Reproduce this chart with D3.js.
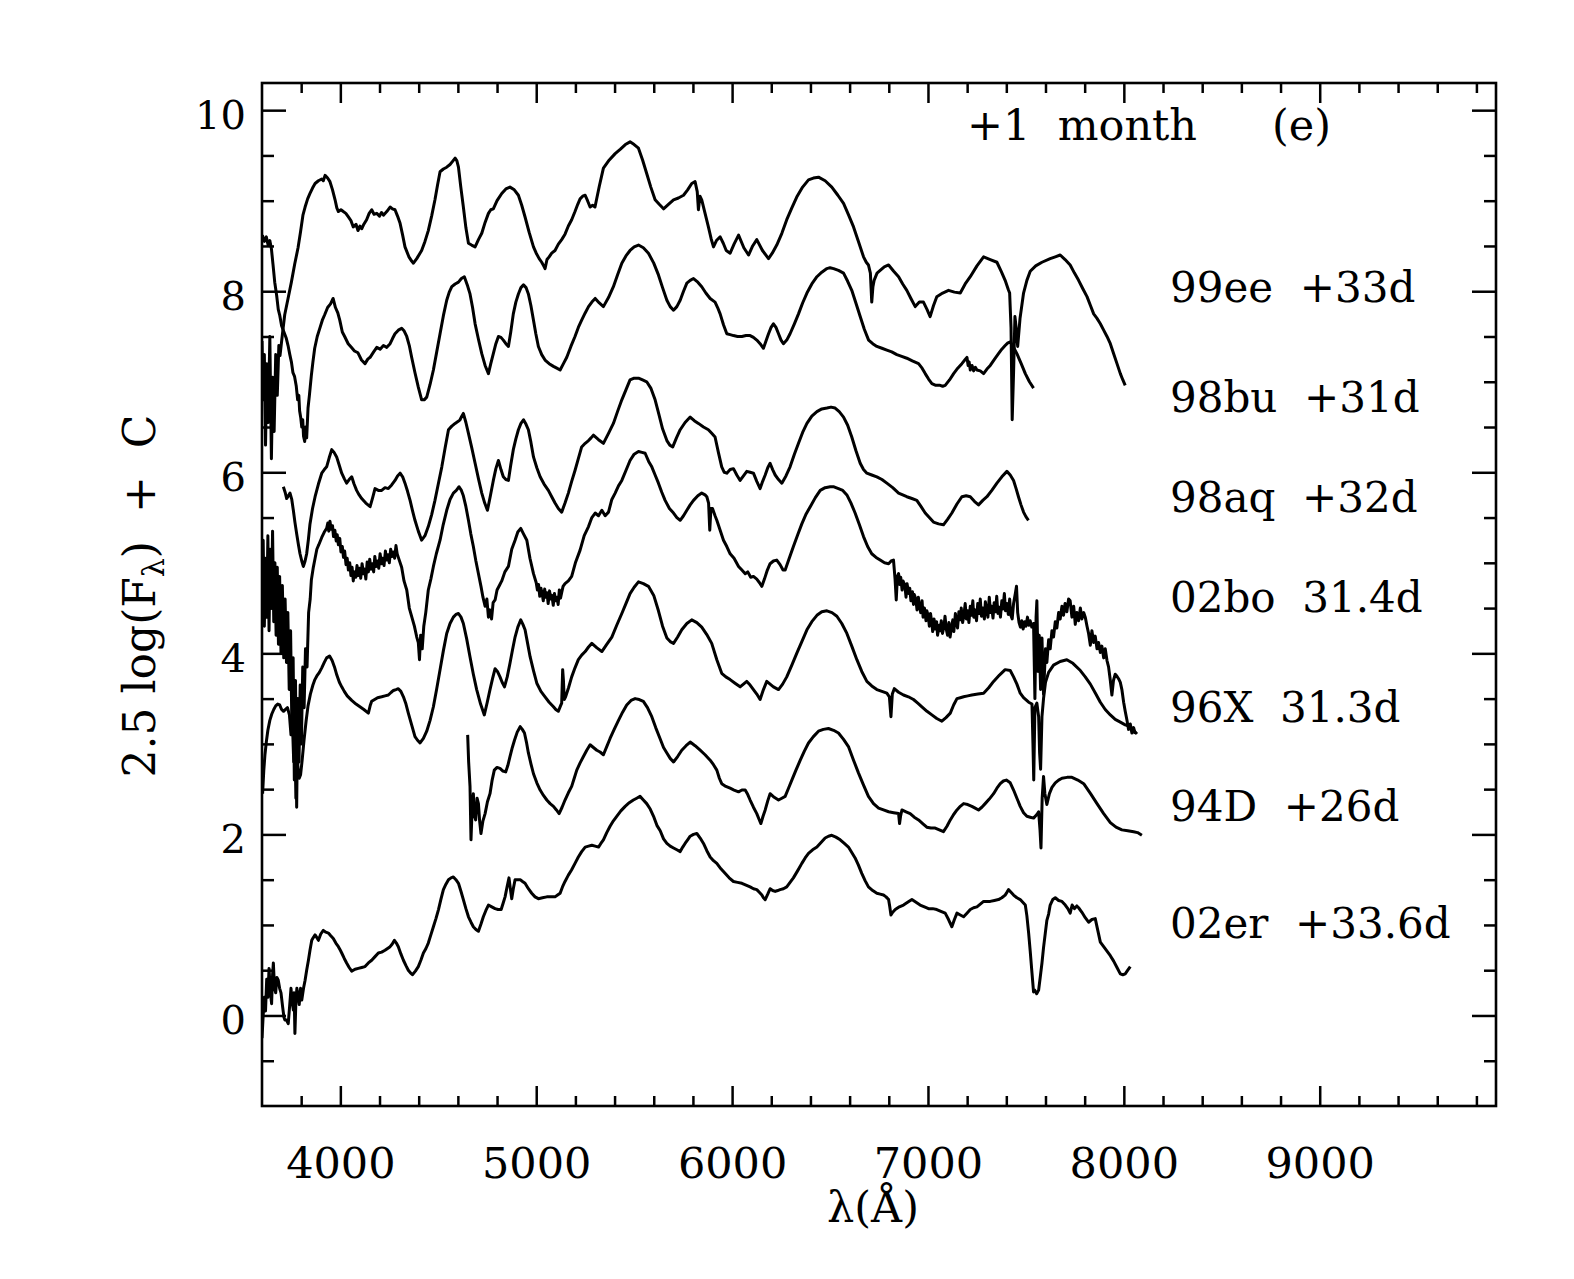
<!DOCTYPE html>
<html>
<head>
<meta charset="utf-8">
<script src="https://cdn.jsdelivr.net/npm/d3@7"></script>
<style>
  body { margin: 0; background: #fff; }
  text { font-family: "DejaVu Serif", serif; fill: #000; white-space: pre; }
</style>
</head>
<body>
<div class="chart"></div>
<script>
// spectra: [wavelength (A), 2.5 log(F) + C]
var sn99ee = [[3600,7.45],[3606,6.80],[3612,7.30],[3618,6.30],[3625,7.20],[3632,6.55],[3640,7.50],[3648,6.15],[3655,7.05],[3662,6.45],[3670,7.30],[3678,6.85],[3686,7.40],[3692,7.29],[3704,7.52],[3716,7.74],[3733,7.92],[3750,8.10],[3767,8.30],[3784,8.48],[3797,8.66],[3809,8.84],[3820,8.93],[3833,9.02],[3845,9.08],[3858,9.14],[3871,9.19],[3888,9.22],[3905,9.24],[3913,9.22],[3922,9.28],[3935,9.25],[3947,9.21],[3960,9.12],[3973,9.01],[3982,8.92],[3990,8.88],[4003,8.90],[4015,8.88],[4028,8.86],[4041,8.82],[4054,8.78],[4066,8.71],[4080,8.74],[4090,8.67],[4100,8.72],[4109,8.69],[4120,8.74],[4134,8.79],[4147,8.86],[4160,8.90],[4172,8.85],[4186,8.86],[4200,8.83],[4210,8.87],[4220,8.84],[4237,8.88],[4254,8.93],[4266,8.91],[4279,8.90],[4292,8.83],[4305,8.75],[4318,8.62],[4330,8.49],[4350,8.38],[4365,8.33],[4373,8.31],[4390,8.36],[4415,8.45],[4432,8.55],[4449,8.67],[4466,8.83],[4483,9.01],[4496,9.17],[4509,9.32],[4526,9.35],[4543,9.37],[4560,9.40],[4575,9.44],[4586,9.47],[4595,9.44],[4603,9.37],[4615,9.15],[4628,8.93],[4641,8.70],[4654,8.53],[4670,8.51],[4688,8.49],[4705,8.57],[4722,8.64],[4739,8.76],[4756,8.86],[4768,8.90],[4781,8.91],[4800,9.00],[4824,9.08],[4845,9.13],[4866,9.15],[4888,9.12],[4909,9.06],[4926,8.95],[4943,8.82],[4964,8.65],[4986,8.49],[5000,8.42],[5015,8.36],[5028,8.32],[5038,8.28],[5045,8.25],[5055,8.35],[5066,8.38],[5079,8.42],[5096,8.45],[5113,8.52],[5130,8.57],[5147,8.63],[5164,8.72],[5181,8.79],[5198,8.88],[5212,8.96],[5224,9.02],[5237,9.05],[5250,9.06],[5262,9.00],[5275,8.93],[5288,8.95],[5300,8.93],[5322,9.16],[5343,9.36],[5373,9.45],[5403,9.52],[5430,9.57],[5455,9.62],[5479,9.65],[5500,9.62],[5522,9.58],[5543,9.45],[5564,9.30],[5585,9.15],[5607,9.01],[5628,8.96],[5650,8.91],[5675,8.96],[5701,9.01],[5726,9.03],[5752,9.06],[5773,9.12],[5794,9.19],[5811,9.21],[5822,9.10],[5828,8.90],[5836,9.05],[5845,9.01],[5862,8.86],[5879,8.71],[5893,8.58],[5905,8.49],[5920,8.56],[5939,8.60],[5955,8.53],[5970,8.45],[5990,8.42],[6010,8.52],[6033,8.62],[6060,8.48],[6084,8.40],[6105,8.50],[6126,8.57],[6155,8.45],[6186,8.36],[6205,8.42],[6228,8.51],[6254,8.64],[6279,8.79],[6305,8.92],[6330,9.04],[6360,9.15],[6390,9.23],[6415,9.25],[6441,9.26],[6475,9.22],[6509,9.15],[6540,9.06],[6569,8.97],[6595,8.84],[6620,8.71],[6645,8.55],[6671,8.38],[6685,8.32],[6696,8.29],[6706,8.20],[6713,7.88],[6719,8.05],[6725,8.12],[6740,8.20],[6756,8.23],[6777,8.27],[6799,8.29],[6825,8.22],[6850,8.16],[6871,8.08],[6892,8.01],[6913,7.92],[6935,7.83],[6956,7.88],[6977,7.88],[6995,7.80],[7011,7.72],[7028,7.84],[7045,7.94],[7075,7.98],[7105,8.01],[7135,7.99],[7165,7.98],[7190,8.08],[7216,8.16],[7250,8.28],[7284,8.38],[7318,8.35],[7352,8.32],[7374,8.22],[7394,8.12],[7410,8.02],[7417,7.98],[7424,7.60],[7430,6.58],[7437,7.10],[7444,7.72],[7450,7.60],[7458,7.39],[7470,7.70],[7488,7.98],[7505,8.12],[7522,8.22],[7550,8.28],[7582,8.32],[7624,8.36],[7650,8.38],[7675,8.40],[7700,8.35],[7726,8.29],[7748,8.20],[7769,8.12],[7790,8.03],[7812,7.94],[7830,7.84],[7846,7.75],[7863,7.70],[7880,7.64],[7897,7.57],[7914,7.50],[7931,7.42],[7948,7.31],[7965,7.20],[7982,7.09],[7995,7.02],[8007,6.96]];

var sn98bu = [[3602,8.62],[3612,8.55],[3622,8.60],[3631,8.51],[3640,8.56],[3648,8.47],[3656,8.30],[3665,8.10],[3675,7.95],[3683,7.80],[3690,7.74],[3700,7.62],[3712,7.55],[3724,7.48],[3733,7.40],[3742,7.30],[3750,7.22],[3758,7.10],[3766,7.06],[3775,6.95],[3782,6.80],[3788,6.85],[3792,6.68],[3798,6.60],[3803,6.50],[3808,6.58],[3812,6.40],[3818,6.34],[3823,6.50],[3828,6.38],[3835,6.71],[3842,6.85],[3852,7.07],[3860,7.22],[3869,7.37],[3882,7.50],[3895,7.59],[3908,7.68],[3920,7.74],[3935,7.82],[3950,7.86],[3963,7.92],[3975,7.82],[3987,7.76],[3997,7.68],[4010,7.55],[4022,7.50],[4040,7.42],[4056,7.38],[4072,7.34],[4090,7.32],[4108,7.24],[4126,7.20],[4140,7.25],[4152,7.27],[4170,7.33],[4186,7.38],[4203,7.36],[4220,7.40],[4237,7.38],[4254,7.42],[4267,7.48],[4279,7.53],[4296,7.57],[4313,7.59],[4326,7.56],[4339,7.50],[4352,7.40],[4364,7.27],[4381,7.10],[4398,6.94],[4415,6.80],[4428,6.80],[4441,6.83],[4458,6.97],[4475,7.13],[4492,7.33],[4509,7.53],[4526,7.73],[4543,7.90],[4556,7.99],[4569,8.05],[4586,8.08],[4603,8.10],[4618,8.14],[4633,8.16],[4648,8.07],[4662,7.97],[4675,7.82],[4688,7.64],[4705,7.47],[4722,7.31],[4739,7.18],[4756,7.09],[4768,7.20],[4781,7.31],[4794,7.42],[4807,7.50],[4820,7.49],[4832,7.46],[4845,7.42],[4858,7.39],[4870,7.55],[4883,7.75],[4896,7.88],[4909,7.97],[4922,8.04],[4935,8.07],[4948,8.04],[4960,7.97],[4973,7.84],[4986,7.68],[4998,7.53],[5011,7.39],[5028,7.30],[5045,7.24],[5066,7.20],[5088,7.17],[5105,7.15],[5122,7.13],[5139,7.20],[5156,7.27],[5177,7.39],[5198,7.50],[5215,7.60],[5232,7.68],[5250,7.76],[5267,7.83],[5284,7.88],[5301,7.92],[5322,7.87],[5343,7.83],[5369,7.93],[5394,8.05],[5415,8.18],[5437,8.31],[5458,8.39],[5479,8.45],[5500,8.49],[5522,8.51],[5547,8.48],[5573,8.42],[5600,8.31],[5624,8.18],[5645,8.04],[5667,7.90],[5684,7.83],[5701,7.79],[5718,7.83],[5735,7.90],[5752,8.00],[5769,8.09],[5786,8.12],[5803,8.14],[5825,8.10],[5845,8.05],[5866,7.98],[5888,7.92],[5913,7.88],[5926,7.82],[5939,7.75],[5956,7.63],[5973,7.53],[5990,7.52],[6007,7.51],[6028,7.50],[6050,7.50],[6071,7.51],[6092,7.51],[6109,7.49],[6126,7.46],[6143,7.42],[6160,7.37],[6173,7.45],[6186,7.53],[6199,7.60],[6211,7.64],[6224,7.60],[6237,7.53],[6250,7.46],[6262,7.42],[6279,7.46],[6296,7.53],[6318,7.64],[6339,7.75],[6360,7.87],[6382,7.98],[6407,8.08],[6433,8.16],[6458,8.21],[6484,8.25],[6500,8.26],[6518,8.25],[6543,8.23],[6569,8.20],[6590,8.11],[6611,8.01],[6632,7.87],[6654,7.72],[6675,7.58],[6697,7.46],[6718,7.42],[6739,7.39],[6765,7.37],[6790,7.35],[6815,7.33],[6841,7.30],[6866,7.28],[6892,7.26],[6920,7.23],[6952,7.20],[6970,7.15],[6986,7.09],[7003,7.03],[7020,6.98],[7040,6.96],[7062,6.96],[7075,6.95],[7088,6.96],[7110,7.02],[7131,7.09],[7152,7.15],[7173,7.20],[7188,7.24],[7199,7.27],[7205,7.18],[7210,7.22],[7216,7.13],[7225,7.18],[7233,7.12],[7242,7.16],[7250,7.13],[7267,7.12],[7284,7.09],[7301,7.14],[7318,7.18],[7340,7.25],[7360,7.31],[7377,7.36],[7394,7.40],[7408,7.43],[7420,7.44],[7437,7.38],[7454,7.31],[7476,7.20],[7497,7.09],[7518,7.00],[7539,6.93]];

var sn98aq = [[3709,5.84],[3718,5.78],[3726,5.71],[3735,5.74],[3743,5.77],[3752,5.70],[3760,5.58],[3768,5.45],[3777,5.32],[3786,5.20],[3794,5.10],[3803,5.02],[3811,4.96],[3820,5.02],[3828,5.10],[3837,5.26],[3845,5.43],[3858,5.60],[3871,5.73],[3888,5.87],[3905,5.99],[3918,6.03],[3930,6.06],[3943,6.16],[3956,6.25],[3968,6.22],[3981,6.17],[3994,6.08],[4007,5.99],[4020,5.93],[4032,5.88],[4045,5.92],[4058,5.95],[4070,5.87],[4083,5.80],[4096,5.75],[4109,5.71],[4130,5.66],[4152,5.62],[4165,5.72],[4177,5.82],[4194,5.80],[4211,5.80],[4228,5.83],[4245,5.82],[4262,5.86],[4279,5.91],[4292,5.96],[4305,5.99],[4318,5.95],[4330,5.88],[4343,5.79],[4356,5.69],[4368,5.58],[4381,5.47],[4398,5.35],[4415,5.25],[4432,5.30],[4449,5.40],[4466,5.53],[4483,5.69],[4500,5.87],[4518,6.06],[4535,6.27],[4552,6.47],[4569,6.51],[4586,6.54],[4600,6.56],[4611,6.58],[4620,6.62],[4628,6.65],[4641,6.55],[4654,6.43],[4671,6.27],[4688,6.10],[4705,5.93],[4722,5.77],[4737,5.66],[4751,5.58],[4766,5.74],[4781,5.91],[4794,6.04],[4807,6.13],[4820,6.03],[4832,5.95],[4845,5.92],[4858,5.91],[4870,6.08],[4883,6.25],[4896,6.37],[4909,6.47],[4922,6.54],[4935,6.58],[4948,6.53],[4960,6.47],[4973,6.33],[4986,6.17],[5003,6.05],[5020,5.95],[5040,5.87],[5062,5.80],[5079,5.73],[5096,5.66],[5113,5.60],[5130,5.56],[5147,5.66],[5164,5.77],[5181,5.90],[5198,6.02],[5215,6.15],[5232,6.28],[5250,6.32],[5267,6.35],[5280,6.38],[5292,6.41],[5318,6.36],[5343,6.32],[5369,6.43],[5394,6.54],[5415,6.67],[5437,6.80],[5458,6.91],[5479,7.02],[5500,7.04],[5522,7.04],[5543,7.02],[5564,7.00],[5585,6.93],[5607,6.80],[5624,6.66],[5645,6.48],[5667,6.35],[5682,6.30],[5697,6.28],[5716,6.38],[5735,6.47],[5760,6.55],[5786,6.61],[5807,6.57],[5828,6.54],[5854,6.50],[5879,6.47],[5896,6.43],[5913,6.39],[5930,6.22],[5947,6.06],[5960,6.00],[5973,5.99],[5990,6.03],[6007,6.04],[6024,5.97],[6041,5.91],[6058,5.96],[6075,6.01],[6092,6.00],[6109,5.99],[6126,5.90],[6143,5.82],[6156,5.90],[6169,5.97],[6182,6.05],[6194,6.10],[6207,6.03],[6220,5.97],[6237,5.92],[6254,5.88],[6275,5.96],[6296,6.06],[6318,6.20],[6339,6.32],[6360,6.44],[6382,6.54],[6407,6.62],[6433,6.67],[6458,6.70],[6484,6.71],[6505,6.72],[6526,6.71],[6547,6.67],[6569,6.61],[6590,6.52],[6611,6.39],[6632,6.24],[6654,6.10],[6671,6.03],[6688,5.99],[6713,5.97],[6739,5.95],[6765,5.92],[6790,5.88],[6820,5.83],[6850,5.77],[6871,5.75],[6892,5.73],[6918,5.71],[6943,5.69],[6965,5.62],[6986,5.55],[7007,5.50],[7028,5.45],[7054,5.43],[7079,5.42],[7100,5.48],[7122,5.55],[7148,5.65],[7173,5.73],[7195,5.74],[7216,5.73],[7237,5.68],[7258,5.64],[7280,5.69],[7301,5.73],[7326,5.80],[7352,5.88],[7377,5.95],[7403,6.01],[7420,5.97],[7437,5.91],[7450,5.82],[7462,5.73],[7475,5.64],[7488,5.56],[7500,5.51],[7513,5.47]];

var sn02bo = [[3600,4.60],[3606,5.25],[3612,4.30],[3618,5.05],[3624,4.40],[3630,5.30],[3636,4.25],[3642,5.15],[3648,4.50],[3654,5.35],[3660,4.35],[3666,5.00],[3672,4.20],[3678,4.95],[3684,4.10],[3690,4.85],[3697,4.00],[3704,4.75],[3711,3.95],[3718,4.60],[3725,3.90],[3732,4.45],[3739,3.60],[3746,4.25],[3753,3.10],[3759,3.95],[3765,2.60],[3771,3.70],[3777,2.30],[3783,3.50],[3789,2.80],[3795,3.65],[3801,3.00],[3808,3.85],[3815,3.40],[3822,4.05],[3830,3.85],[3838,4.45],[3846,4.60],[3852,4.81],[3862,4.95],[3871,5.05],[3880,5.15],[3890,5.20],[3905,5.28],[3918,5.34],[3930,5.38],[3936,5.44],[3941,5.35],[3947,5.46],[3953,5.37],[3960,5.41],[3965,5.29],[3972,5.36],[3979,5.24],[3984,5.31],[3990,5.20],[3997,5.27],[4003,5.12],[4010,5.18],[4016,5.06],[4022,5.13],[4029,4.98],[4035,5.05],[4041,4.92],[4048,5.00],[4054,4.86],[4060,4.95],[4066,4.80],[4072,4.90],[4079,4.84],[4085,4.97],[4092,4.86],[4098,4.94],[4104,4.83],[4111,4.99],[4118,4.88],[4124,4.93],[4130,4.82],[4137,5.01],[4143,4.90],[4150,5.04],[4156,4.93],[4163,4.99],[4170,4.90],[4176,5.07],[4183,4.96],[4190,5.02],[4196,4.94],[4203,5.10],[4210,4.99],[4216,5.05],[4223,4.97],[4230,5.13],[4236,5.03],[4243,5.09],[4250,5.00],[4257,5.15],[4264,5.07],[4270,5.12],[4277,5.05],[4284,5.19],[4290,5.10],[4296,5.06],[4313,4.95],[4325,4.80],[4339,4.70],[4352,4.50],[4365,4.40],[4378,4.30],[4390,4.18],[4398,4.12],[4404,3.93],[4410,4.20],[4418,4.05],[4426,4.30],[4436,4.45],[4449,4.70],[4462,4.82],[4475,4.96],[4490,5.10],[4509,5.25],[4525,5.42],[4543,5.58],[4560,5.70],[4577,5.77],[4592,5.80],[4606,5.84],[4618,5.80],[4628,5.74],[4641,5.62],[4654,5.47],[4666,5.32],[4679,5.18],[4692,5.02],[4705,4.88],[4718,4.74],[4728,4.62],[4739,4.52],[4748,4.60],[4756,4.40],[4764,4.48],[4772,4.38],[4780,4.56],[4790,4.59],[4800,4.70],[4812,4.75],[4824,4.80],[4840,4.90],[4858,4.96],[4875,5.15],[4892,5.25],[4906,5.34],[4921,5.38],[4935,5.32],[4952,5.25],[4968,5.05],[4986,4.88],[5000,4.78],[5006,4.70],[5012,4.76],[5018,4.63],[5024,4.72],[5030,4.66],[5036,4.58],[5043,4.71],[5049,4.62],[5055,4.67],[5061,4.55],[5068,4.69],[5074,4.60],[5080,4.64],[5087,4.53],[5093,4.66],[5099,4.58],[5106,4.62],[5112,4.54],[5118,4.70],[5124,4.61],[5131,4.68],[5137,4.74],[5147,4.77],[5164,4.80],[5181,4.85],[5200,5.00],[5224,5.14],[5245,5.30],[5267,5.40],[5284,5.50],[5301,5.55],[5318,5.52],[5335,5.58],[5352,5.52],[5369,5.56],[5386,5.70],[5403,5.77],[5420,5.85],[5437,5.91],[5458,6.02],[5479,6.13],[5500,6.20],[5522,6.23],[5540,6.22],[5556,6.21],[5574,6.12],[5590,6.06],[5607,5.97],[5624,5.88],[5641,5.78],[5658,5.69],[5680,5.60],[5701,5.55],[5718,5.50],[5735,5.47],[5752,5.52],[5769,5.58],[5786,5.64],[5803,5.69],[5825,5.74],[5845,5.77],[5862,5.75],[5871,5.73],[5880,5.66],[5886,5.36],[5892,5.60],[5900,5.60],[5913,5.52],[5922,5.47],[5939,5.36],[5956,5.25],[5973,5.18],[5990,5.10],[6010,5.05],[6033,4.96],[6050,4.92],[6067,4.88],[6080,4.90],[6095,4.84],[6109,4.85],[6126,4.82],[6140,4.78],[6152,4.74],[6165,4.82],[6180,4.92],[6194,4.99],[6211,5.02],[6228,5.03],[6245,4.98],[6260,4.92],[6271,4.92],[6290,5.04],[6313,5.18],[6335,5.31],[6356,5.43],[6378,5.54],[6399,5.62],[6425,5.72],[6450,5.80],[6475,5.83],[6501,5.84],[6520,5.84],[6543,5.82],[6565,5.80],[6586,5.75],[6607,5.66],[6628,5.55],[6650,5.42],[6671,5.29],[6692,5.18],[6713,5.10],[6735,5.06],[6756,5.03],[6778,5.00],[6799,4.99],[6812,5.02],[6824,5.03],[6832,4.82],[6838,4.59],[6844,4.85],[6850,4.88],[6856,4.76],[6861,4.84],[6868,4.70],[6873,4.80],[6882,4.75],[6888,4.62],[6893,4.77],[6902,4.66],[6907,4.72],[6913,4.58],[6921,4.68],[6926,4.54],[6930,4.65],[6938,4.60],[6944,4.48],[6951,4.62],[6957,4.51],[6963,4.45],[6970,4.58],[6975,4.40],[6982,4.50],[6990,4.36],[6994,4.47],[7001,4.42],[7007,4.30],[7013,4.44],[7020,4.33],[7024,4.24],[7031,4.38],[7038,4.27],[7044,4.35],[7049,4.20],[7057,4.31],[7063,4.25],[7068,4.36],[7074,4.22],[7082,4.30],[7087,4.41],[7094,4.26],[7100,4.20],[7107,4.34],[7113,4.18],[7120,4.29],[7127,4.37],[7132,4.24],[7140,4.44],[7146,4.33],[7151,4.28],[7158,4.46],[7165,4.37],[7170,4.50],[7177,4.34],[7184,4.43],[7190,4.55],[7196,4.38],[7203,4.47],[7209,4.34],[7216,4.52],[7222,4.42],[7229,4.58],[7234,4.40],[7241,4.48],[7248,4.36],[7254,4.55],[7261,4.44],[7267,4.60],[7273,4.41],[7280,4.50],[7288,4.38],[7293,4.57],[7300,4.47],[7306,4.40],[7313,4.62],[7319,4.45],[7325,4.52],[7332,4.39],[7338,4.56],[7345,4.46],[7351,4.63],[7357,4.44],[7364,4.51],[7370,4.40],[7377,4.58],[7383,4.49],[7390,4.66],[7396,4.47],[7403,4.55],[7410,4.43],[7417,4.60],[7423,4.42],[7430,4.38],[7437,4.55],[7446,4.66],[7452,4.74],[7458,4.45],[7465,4.34],[7472,4.29],[7479,4.36],[7486,4.27],[7494,4.35],[7500,4.30],[7508,4.40],[7515,4.31],[7522,4.36],[7530,4.29],[7539,4.33],[7546,3.50],[7552,4.40],[7556,4.58],[7562,3.80],[7568,4.20],[7575,3.60],[7582,4.17],[7590,3.55],[7600,4.05],[7607,3.90],[7616,4.15],[7624,4.05],[7633,4.25],[7641,4.18],[7650,4.35],[7658,4.28],[7667,4.45],[7675,4.38],[7684,4.52],[7692,4.42],[7700,4.55],[7709,4.46],[7718,4.60],[7726,4.58],[7735,4.40],[7744,4.52],[7752,4.32],[7760,4.45],[7769,4.36],[7778,4.50],[7786,4.38],[7795,4.45],[7803,4.40],[7812,4.30],[7820,4.22],[7829,4.09],[7837,4.25],[7846,4.12],[7854,4.19],[7863,4.05],[7871,4.12],[7880,4.01],[7888,4.08],[7897,3.95],[7905,4.05],[7914,3.92],[7922,3.85],[7931,3.70],[7939,3.54],[7947,3.70],[7956,3.77],[7964,3.75],[7973,3.72],[7982,3.68],[7990,3.60],[7999,3.46],[8007,3.36],[8016,3.26],[8024,3.16],[8033,3.22],[8041,3.12],[8050,3.18],[8058,3.11]];

var sn96X = [[3603,2.45],[3609,2.70],[3615,2.88],[3622,3.02],[3630,3.15],[3640,3.26],[3650,3.33],[3660,3.38],[3670,3.42],[3680,3.44],[3690,3.43],[3700,3.38],[3710,3.36],[3720,3.38],[3730,3.40],[3740,3.32],[3748,3.10],[3755,3.25],[3762,2.80],[3768,3.10],[3773,2.40],[3778,3.30],[3783,2.75],[3790,2.62],[3797,2.66],[3805,2.82],[3815,3.05],[3825,3.25],[3835,3.42],[3847,3.55],[3860,3.65],[3870,3.71],[3880,3.75],[3893,3.79],[3905,3.84],[3918,3.90],[3930,3.95],[3945,3.97],[3958,3.92],[3970,3.85],[3982,3.76],[3995,3.68],[4007,3.63],[4020,3.58],[4035,3.53],[4058,3.48],[4080,3.44],[4100,3.41],[4120,3.38],[4143,3.34],[4152,3.42],[4160,3.47],[4175,3.49],[4190,3.51],[4211,3.52],[4228,3.53],[4245,3.54],[4260,3.57],[4271,3.59],[4284,3.60],[4296,3.61],[4309,3.58],[4322,3.52],[4335,3.44],[4347,3.34],[4364,3.21],[4381,3.08],[4394,3.04],[4407,3.01],[4424,3.06],[4441,3.14],[4458,3.26],[4475,3.41],[4492,3.61],[4509,3.82],[4526,4.03],[4543,4.22],[4560,4.33],[4577,4.40],[4590,4.43],[4603,4.44],[4616,4.40],[4628,4.33],[4645,4.16],[4662,3.96],[4679,3.77],[4696,3.60],[4716,3.44],[4735,3.32],[4750,3.46],[4764,3.60],[4777,3.72],[4790,3.83],[4802,3.80],[4815,3.74],[4826,3.68],[4838,3.63],[4852,3.74],[4866,3.89],[4879,4.04],[4892,4.18],[4906,4.29],[4921,4.37],[4932,4.32],[4943,4.26],[4956,4.11],[4969,3.96],[4986,3.81],[5003,3.67],[5024,3.58],[5045,3.52],[5066,3.46],[5088,3.41],[5100,3.38],[5113,3.36],[5124,3.42],[5130,3.45],[5135,3.82],[5139,3.70],[5143,3.49],[5150,3.52],[5165,3.62],[5181,3.74],[5198,3.84],[5215,3.93],[5232,3.98],[5250,4.02],[5267,4.07],[5284,4.11],[5310,4.06],[5335,4.02],[5360,4.10],[5386,4.18],[5411,4.31],[5437,4.44],[5458,4.55],[5479,4.66],[5500,4.73],[5522,4.79],[5547,4.77],[5573,4.74],[5600,4.64],[5624,4.47],[5645,4.30],[5667,4.17],[5684,4.13],[5701,4.11],[5722,4.18],[5743,4.26],[5769,4.33],[5794,4.37],[5820,4.34],[5845,4.29],[5870,4.21],[5896,4.11],[5922,3.93],[5947,3.78],[5968,3.74],[5990,3.71],[6015,3.67],[6041,3.63],[6058,3.66],[6075,3.69],[6092,3.65],[6109,3.60],[6126,3.55],[6143,3.49],[6160,3.60],[6177,3.69],[6194,3.66],[6211,3.63],[6237,3.60],[6258,3.66],[6279,3.74],[6305,3.87],[6330,4.00],[6356,4.13],[6382,4.26],[6407,4.35],[6433,4.42],[6458,4.46],[6484,4.47],[6510,4.45],[6535,4.41],[6560,4.33],[6586,4.22],[6611,4.08],[6637,3.93],[6662,3.80],[6688,3.69],[6713,3.64],[6739,3.60],[6765,3.58],[6790,3.56],[6803,3.52],[6811,3.30],[6818,3.55],[6828,3.61],[6850,3.57],[6875,3.54],[6900,3.52],[6926,3.49],[6948,3.45],[6969,3.41],[6995,3.36],[7020,3.32],[7045,3.28],[7071,3.25],[7092,3.29],[7114,3.34],[7131,3.43],[7148,3.50],[7165,3.51],[7182,3.52],[7203,3.53],[7224,3.54],[7255,3.55],[7284,3.56],[7310,3.62],[7335,3.69],[7365,3.76],[7394,3.82],[7420,3.81],[7437,3.74],[7454,3.66],[7471,3.56],[7488,3.51],[7514,3.46],[7531,3.44],[7536,3.00],[7540,2.60],[7546,3.40],[7556,3.45],[7565,3.30],[7570,2.90],[7575,2.72],[7582,3.30],[7590,3.50],[7600,3.68],[7616,3.79],[7641,3.87],[7675,3.91],[7709,3.93],[7740,3.89],[7778,3.81],[7803,3.74],[7829,3.66],[7855,3.56],[7880,3.46],[7905,3.38],[7931,3.32],[7956,3.27],[7982,3.24],[8007,3.21],[8033,3.19],[8050,3.15],[8067,3.11]];

var sn94D = [[4650,3.10],[4655,2.80],[4662,2.53],[4667,1.94],[4673,2.30],[4679,2.45],[4685,2.20],[4691,2.16],[4698,2.40],[4705,2.34],[4711,2.15],[4718,2.01],[4728,2.15],[4739,2.23],[4751,2.36],[4764,2.45],[4775,2.60],[4786,2.71],[4800,2.74],[4815,2.73],[4830,2.70],[4844,2.69],[4855,2.76],[4866,2.86],[4878,2.96],[4889,3.04],[4903,3.13],[4918,3.19],[4929,3.16],[4940,3.12],[4950,3.02],[4960,2.90],[4973,2.78],[4986,2.67],[5003,2.57],[5020,2.49],[5037,2.43],[5054,2.38],[5071,2.34],[5088,2.31],[5103,2.27],[5117,2.23],[5132,2.30],[5147,2.38],[5164,2.46],[5181,2.53],[5194,2.62],[5207,2.71],[5224,2.79],[5241,2.86],[5258,2.93],[5275,2.99],[5292,2.96],[5309,2.93],[5326,2.91],[5343,2.88],[5360,2.97],[5377,3.06],[5398,3.16],[5420,3.26],[5441,3.35],[5462,3.43],[5484,3.48],[5505,3.50],[5526,3.49],[5547,3.47],[5568,3.40],[5590,3.30],[5610,3.18],[5632,3.06],[5650,2.96],[5667,2.90],[5684,2.84],[5701,2.80],[5722,2.86],[5743,2.93],[5765,2.98],[5786,3.02],[5811,2.98],[5837,2.93],[5862,2.88],[5888,2.82],[5905,2.77],[5922,2.71],[5935,2.62],[5947,2.56],[5968,2.53],[5990,2.51],[6010,2.49],[6033,2.47],[6050,2.49],[6067,2.49],[6080,2.44],[6092,2.38],[6109,2.30],[6126,2.23],[6137,2.17],[6147,2.12],[6158,2.20],[6169,2.27],[6182,2.37],[6194,2.45],[6215,2.41],[6237,2.38],[6254,2.40],[6271,2.42],[6288,2.51],[6305,2.60],[6326,2.71],[6348,2.82],[6369,2.92],[6390,3.01],[6415,3.08],[6441,3.14],[6466,3.16],[6492,3.17],[6518,3.15],[6543,3.12],[6569,3.05],[6594,2.97],[6620,2.82],[6645,2.68],[6670,2.55],[6696,2.42],[6722,2.34],[6748,2.29],[6773,2.27],[6799,2.25],[6825,2.24],[6850,2.23],[6855,2.12],[6860,2.20],[6867,2.27],[6888,2.25],[6909,2.23],[6930,2.19],[6952,2.16],[6973,2.12],[6994,2.08],[7015,2.07],[7037,2.07],[7058,2.05],[7079,2.03],[7097,2.09],[7114,2.16],[7131,2.22],[7148,2.27],[7165,2.31],[7182,2.34],[7203,2.33],[7224,2.31],[7241,2.29],[7258,2.27],[7275,2.30],[7292,2.34],[7313,2.39],[7335,2.45],[7352,2.51],[7369,2.56],[7385,2.59],[7400,2.60],[7420,2.57],[7437,2.49],[7454,2.40],[7471,2.31],[7488,2.24],[7505,2.20],[7522,2.19],[7539,2.18],[7556,2.22],[7565,2.25],[7572,2.05],[7577,1.85],[7583,2.40],[7590,2.64],[7597,2.45],[7607,2.33],[7620,2.45],[7633,2.52],[7650,2.57],[7667,2.60],[7684,2.62],[7710,2.63],[7735,2.63],[7765,2.60],[7795,2.56],[7830,2.45],[7863,2.34],[7897,2.23],[7931,2.13],[7960,2.08],[7990,2.05],[8020,2.04],[8050,2.03],[8070,2.02],[8092,1.99]];

var sn02er = [[3600,-0.25],[3606,0.00],[3612,0.20],[3618,0.05],[3624,0.40],[3630,0.20],[3636,0.52],[3642,0.28],[3649,0.13],[3654,0.45],[3658,0.58],[3664,0.30],[3670,0.25],[3676,0.42],[3683,0.39],[3690,0.30],[3697,0.25],[3705,0.10],[3712,-0.02],[3717,-0.05],[3725,-0.05],[3734,-0.09],[3741,0.10],[3748,0.30],[3754,0.15],[3760,0.06],[3764,0.25],[3768,-0.20],[3773,0.15],[3778,0.30],[3782,0.25],[3790,0.12],[3797,0.30],[3803,0.17],[3812,0.30],[3820,0.39],[3828,0.50],[3837,0.61],[3845,0.72],[3854,0.83],[3862,0.86],[3871,0.89],[3880,0.86],[3888,0.83],[3900,0.90],[3913,0.94],[3926,0.92],[3939,0.91],[3951,0.88],[3964,0.85],[3977,0.80],[3990,0.76],[4000,0.72],[4007,0.69],[4020,0.63],[4032,0.58],[4045,0.53],[4058,0.49],[4075,0.51],[4092,0.52],[4109,0.53],[4126,0.54],[4143,0.58],[4160,0.61],[4177,0.65],[4194,0.69],[4211,0.70],[4228,0.72],[4241,0.74],[4254,0.76],[4265,0.79],[4276,0.83],[4286,0.80],[4296,0.76],[4309,0.68],[4322,0.61],[4335,0.55],[4347,0.50],[4358,0.47],[4368,0.45],[4383,0.49],[4398,0.54],[4411,0.61],[4424,0.69],[4437,0.74],[4449,0.80],[4462,0.89],[4475,0.98],[4488,1.07],[4501,1.17],[4513,1.28],[4526,1.39],[4539,1.45],[4552,1.50],[4565,1.52],[4577,1.53],[4590,1.50],[4603,1.46],[4616,1.37],[4628,1.28],[4641,1.18],[4654,1.09],[4667,1.03],[4679,0.98],[4692,0.95],[4705,0.93],[4718,1.01],[4730,1.09],[4743,1.16],[4756,1.22],[4773,1.20],[4790,1.18],[4805,1.17],[4821,1.17],[4831,1.24],[4841,1.31],[4851,1.42],[4861,1.52],[4868,1.40],[4875,1.29],[4883,1.40],[4892,1.50],[4905,1.50],[4918,1.50],[4930,1.48],[4943,1.46],[4960,1.40],[4977,1.35],[4994,1.31],[5011,1.29],[5032,1.30],[5054,1.31],[5075,1.31],[5096,1.31],[5109,1.33],[5122,1.35],[5134,1.42],[5147,1.48],[5164,1.55],[5181,1.61],[5198,1.68],[5215,1.75],[5232,1.81],[5250,1.86],[5267,1.87],[5284,1.88],[5301,1.87],[5318,1.86],[5330,1.90],[5343,1.94],[5360,2.02],[5377,2.09],[5394,2.15],[5411,2.20],[5432,2.26],[5454,2.31],[5475,2.35],[5496,2.38],[5513,2.40],[5530,2.42],[5547,2.38],[5564,2.34],[5582,2.28],[5599,2.20],[5616,2.10],[5633,2.04],[5650,1.95],[5667,1.90],[5684,1.87],[5701,1.85],[5718,1.83],[5735,1.81],[5748,1.86],[5760,1.90],[5773,1.94],[5786,1.98],[5803,2.00],[5820,2.01],[5837,1.96],[5854,1.90],[5871,1.82],[5888,1.75],[5905,1.71],[5922,1.68],[5943,1.62],[5964,1.57],[5985,1.52],[6007,1.48],[6028,1.47],[6050,1.46],[6071,1.44],[6092,1.42],[6109,1.40],[6126,1.39],[6139,1.36],[6152,1.33],[6160,1.30],[6169,1.28],[6182,1.34],[6194,1.40],[6207,1.38],[6220,1.37],[6233,1.38],[6245,1.39],[6262,1.40],[6279,1.42],[6296,1.47],[6313,1.52],[6335,1.60],[6356,1.68],[6373,1.74],[6390,1.79],[6411,1.83],[6433,1.86],[6454,1.91],[6475,1.96],[6492,1.98],[6509,1.99],[6530,1.97],[6552,1.94],[6573,1.90],[6594,1.86],[6611,1.80],[6628,1.74],[6645,1.66],[6662,1.57],[6679,1.49],[6696,1.42],[6718,1.38],[6739,1.35],[6756,1.34],[6773,1.33],[6786,1.31],[6799,1.28],[6805,1.20],[6811,1.11],[6820,1.14],[6833,1.17],[6854,1.20],[6875,1.22],[6896,1.25],[6918,1.28],[6939,1.25],[6960,1.22],[6982,1.20],[7003,1.18],[7024,1.18],[7045,1.17],[7066,1.15],[7088,1.13],[7105,1.06],[7122,0.98],[7135,1.06],[7148,1.13],[7165,1.11],[7182,1.09],[7199,1.13],[7216,1.17],[7233,1.19],[7250,1.20],[7267,1.23],[7284,1.26],[7301,1.26],[7318,1.26],[7339,1.27],[7360,1.28],[7377,1.30],[7394,1.33],[7403,1.36],[7411,1.39],[7424,1.36],[7437,1.33],[7454,1.30],[7471,1.28],[7484,1.25],[7497,1.22],[7505,1.10],[7514,0.91],[7522,0.71],[7531,0.47],[7539,0.26],[7545,0.28],[7555,0.24],[7565,0.28],[7573,0.42],[7582,0.58],[7590,0.75],[7599,0.91],[7607,1.05],[7616,1.12],[7624,1.22],[7637,1.28],[7650,1.30],[7667,1.27],[7684,1.26],[7701,1.22],[7714,1.18],[7726,1.13],[7736,1.22],[7748,1.18],[7760,1.21],[7769,1.19],[7786,1.14],[7803,1.08],[7820,1.03],[7837,1.06],[7854,1.07],[7867,0.94],[7880,0.81],[7897,0.76],[7914,0.71],[7931,0.66],[7948,0.60],[7965,0.53],[7982,0.46],[7995,0.45],[8007,0.46],[8020,0.50],[8033,0.54]];

var spectra = [sn99ee, sn98bu, sn98aq, sn02bo, sn96X, sn94D, sn02er];
var labels = ["99ee  +33d", "98bu  +31d", "98aq  +32d", "02bo  31.4d", "96X  31.3d", "94D  +26d", "02er  +33.6d"];

var xMajor = [4000, 5000, 6000, 7000, 8000, 9000];
var xMinor = [3800, 4200, 4400, 4600, 4800, 5200, 5400, 5600, 5800, 6200, 6400, 6600, 6800, 7200, 7400, 7600, 7800, 8200, 8400, 8600, 8800, 9200, 9400, 9600, 9800];
var yMajor = [0, 2, 4, 6, 8, 10];
var yMinor = [-0.5, 0.5, 1, 1.5, 2.5, 3, 3.5, 4.5, 5, 5.5, 6.5, 7, 7.5, 8.5, 9, 9.5];

var width = 1574,
    height = 1279;
var plot = { left: 262, right: 1496, top: 83, bottom: 1106 };

var svg = d3.select(".chart")
  .append("svg")
    .attr("width", width)
    .attr("height", height);

var x = d3.scaleLinear().domain([3600, 9900]).range([plot.left, plot.right]);
var y = d3.scaleLinear().domain([-1, 10.3]).range([plot.bottom, plot.top]);

svg.append("clipPath").attr("id", "frame")
  .append("rect")
    .attr("x", plot.left).attr("y", plot.top)
    .attr("width", plot.right - plot.left).attr("height", plot.bottom - plot.top);

// spectra
var line = d3.line()
  .x(function(d) { return x(d[0]); })
  .y(function(d) { return y(d[1]); });

svg.append("g")
    .attr("clip-path", "url(#frame)")
  .selectAll("path")
  .data(spectra)
  .enter()
  .append("path")
    .attr("d", line)
    .attr("fill", "none")
    .attr("stroke", "#000")
    .attr("stroke-width", 3)
    .attr("stroke-linejoin", "round");

// ticks on all four sides, pointing inward
function styleAxis(g) {
  g.select(".domain").remove();
  g.selectAll(".tick line").attr("stroke", "#000").attr("stroke-width", 2.5);
  g.selectAll(".tick text")
    .attr("fill", "#000")
    .style("font-family", '"DejaVu Serif", serif');
}

svg.append("g")
    .attr("transform", "translate(0," + plot.bottom + ")")
    .call(d3.axisBottom(x).tickValues(xMajor).tickSize(-20).tickSizeOuter(0)
      .tickPadding(41).tickFormat(d3.format("d")))
    .call(styleAxis)
    .selectAll(".tick text").style("font-size", "43px");
svg.append("g")
    .attr("transform", "translate(0," + plot.bottom + ")")
    .call(d3.axisBottom(x).tickValues(xMinor).tickSize(-10).tickFormat(""))
    .call(styleAxis);
svg.append("g")
    .attr("transform", "translate(0," + plot.top + ")")
    .call(d3.axisTop(x).tickValues(xMajor).tickSize(-20).tickFormat(""))
    .call(styleAxis);
svg.append("g")
    .attr("transform", "translate(0," + plot.top + ")")
    .call(d3.axisTop(x).tickValues(xMinor).tickSize(-10).tickFormat(""))
    .call(styleAxis);

svg.append("g")
    .attr("transform", "translate(" + plot.left + ",0)")
    .call(d3.axisLeft(y).tickValues(yMajor).tickSize(-24).tickPadding(16))
    .call(styleAxis)
    .selectAll(".tick text").style("font-size", "40px").attr("dy", "0.45em");
svg.append("g")
    .attr("transform", "translate(" + plot.left + ",0)")
    .call(d3.axisLeft(y).tickValues(yMinor).tickSize(-12).tickFormat(""))
    .call(styleAxis);
svg.append("g")
    .attr("transform", "translate(" + plot.right + ",0)")
    .call(d3.axisRight(y).tickValues(yMajor).tickSize(-24).tickFormat(""))
    .call(styleAxis);
svg.append("g")
    .attr("transform", "translate(" + plot.right + ",0)")
    .call(d3.axisRight(y).tickValues(yMinor).tickSize(-12).tickFormat(""))
    .call(styleAxis);

// frame
svg.append("rect")
    .attr("x", plot.left).attr("y", plot.top)
    .attr("width", plot.right - plot.left).attr("height", plot.bottom - plot.top)
    .attr("fill", "none")
    .attr("stroke", "#000")
    .attr("stroke-width", 2.6);

// supernova labels, one per spectrum
var labelBaseline = [302, 412, 512, 612, 722, 821, 938];
svg.selectAll(".sn-label")
  .data(labels)
  .enter()
  .append("text")
    .attr("class", "sn-label")
    .attr("x", 1170)
    .attr("y", function(d, i) { return labelBaseline[i]; })
    .style("font-size", "42px")
    .text(function(d) { return d; });

// panel title
svg.append("text")
    .attr("x", 967).attr("y", 140)
    .style("font-size", "43px")
    .text("+1  month");
svg.append("text")
    .attr("x", 1272).attr("y", 140)
    .style("font-size", "43px")
    .text("(e)");

// axis titles
svg.append("text")
    .attr("x", 873).attr("y", 1222)
    .attr("text-anchor", "middle")
    .style("font-size", "43px")
    .text("λ(Å)");

var ylab = svg.append("text")
    .attr("transform", "translate(155,596) rotate(-90)")
    .attr("text-anchor", "middle")
    .style("font-size", "44px");
ylab.append("tspan").text("2.5 log(F");
ylab.append("tspan").attr("dy", 9).style("font-size", "30px").text("λ");
ylab.append("tspan").attr("dy", -9).text(")  +  C");
</script>
</body>
</html>
